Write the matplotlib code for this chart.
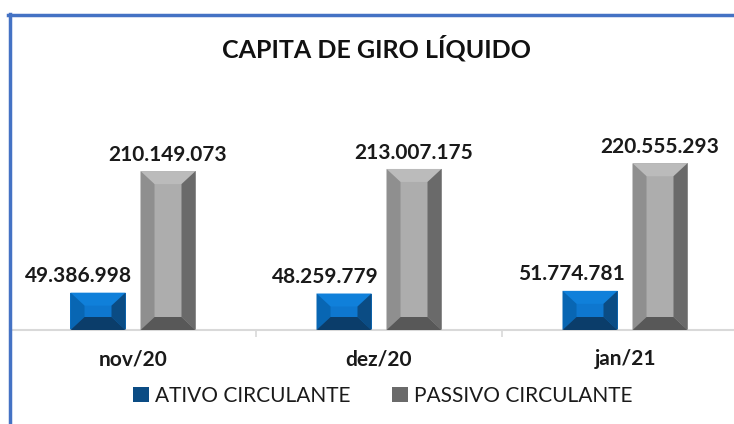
import matplotlib.pyplot as plt
import numpy as np
from matplotlib.patches import Polygon, Patch
from matplotlib.lines import Line2D

meses = ['nov/20', 'dez/20', 'jan/21']
ativo = [49386998, 48259779, 51774781]
passivo = [210149073, 213007175, 220555293]
series = ['ATIVO CIRCULANTE', 'PASSIVO CIRCULANTE']
rotulos_ativo = ['49.386.998', '48.259.779', '51.774.781']
rotulos_passivo = ['210.149.073', '213.007.175', '220.555.293']

# cores do bisel: centro, topo, esquerda, direita, base
azul = ['#0E77CF', '#1080DA', '#0866B3', '#0B4C84', '#0B3D6A']
cinza = ['#ADADAD', '#BBBBBB', '#8F8F8F', '#6A6A6A', '#585858']

plt.rcParams['font.family'] = ['Lato', 'DejaVu Sans']

W, H = 734, 424
fig = plt.figure(figsize=(W / 100, H / 100), dpi=100)
# eixo: categorias com 246 px, base em y=330 px
ax = fig.add_axes([10 / W, (H - 330) / H, 738 / W, 189 / H])
ymax = 250e6
ax.set_xlim(-0.5, 2.5)
ax.set_ylim(0, ymax)

px_x = 1 / 246.0          # unidades por pixel em x
px_y = ymax / 189.0       # unidades por pixel em y
largura = 55 * px_x
desloc = 35 * px_x
bx = 14 * px_x
by = 13 * px_y

x = np.arange(len(meses))


def barra_bisel(xc, h, cores):
    x0, x1 = xc - largura / 2, xc + largura / 2
    ax.bar(xc, h, largura, color=cores[0], zorder=2)
    partes = [
        ([(x0, h), (x1, h), (x1 - bx, h - by), (x0 + bx, h - by)], cores[1]),
        ([(x0, 0), (x0 + bx, by), (x0 + bx, h - by), (x0, h)], cores[2]),
        ([(x1, 0), (x1 - bx, by), (x1 - bx, h - by), (x1, h)], cores[3]),
        ([(x0, 0), (x1, 0), (x1 - bx, by), (x0 + bx, by)], cores[4]),
    ]
    for pts, c in partes:
        ax.add_patch(Polygon(pts, closed=True, facecolor=c, edgecolor='none', zorder=3))


for i in x:
    barra_bisel(i - desloc, ativo[i], azul)
    barra_bisel(i + desloc, passivo[i], cinza)
    ax.annotate(rotulos_ativo[i], (i - desloc, ativo[i]), xytext=(-19, 7),
                textcoords='offset pixels', ha='center', va='bottom',
                fontsize=15, fontweight='bold', color='#1a1a1a')
    ax.annotate(rotulos_passivo[i], (i + desloc, passivo[i]), xytext=(0, 6),
                textcoords='offset pixels', ha='center', va='bottom',
                fontsize=15, fontweight='bold', color='#1a1a1a')

for s in ['top', 'right', 'left']:
    ax.spines[s].set_visible(False)
ax.spines['bottom'].set_color('#D9D9D9')
ax.spines['bottom'].set_linewidth(1.5)
ax.set_yticks([])
ax.set_xticks(x)
ax.set_xticklabels(meses, fontsize=15, fontweight='bold', color='#1a1a1a')
ax.tick_params(axis='x', which='major', length=0, pad=14)
ax.set_xticks([0.5, 1.5], minor=True)
ax.tick_params(axis='x', which='minor', length=5, color='#D9D9D9', width=1.2)

fig.text(377 / W, 1 - 48 / H, 'CAPITA DE GIRO LÍQUIDO', ha='center', va='center',
         fontsize=18, fontweight='bold', color='#111111')

alcas = [Patch(facecolor=azul[3], edgecolor='none'), Patch(facecolor=cinza[3], edgecolor='none')]
fig.legend(alcas, series, loc='center', bbox_to_anchor=(383 / W, 1 - 396 / H),
           ncol=2, frameon=False, fontsize=15, handlelength=0.75, handleheight=0.75,
           handletextpad=0.3, columnspacing=2.0, labelcolor='#1a1a1a')

# moldura azul (topo e esquerda)
fig.add_artist(Line2D([8 / W, 1], [1 - 15 / H, 1 - 15 / H], color='#4472C4', lw=2.5))
fig.add_artist(Line2D([10 / W, 10 / W], [0, 1 - 14 / H], color='#4472C4', lw=2.5))

fig.savefig('out.png', dpi=100)
